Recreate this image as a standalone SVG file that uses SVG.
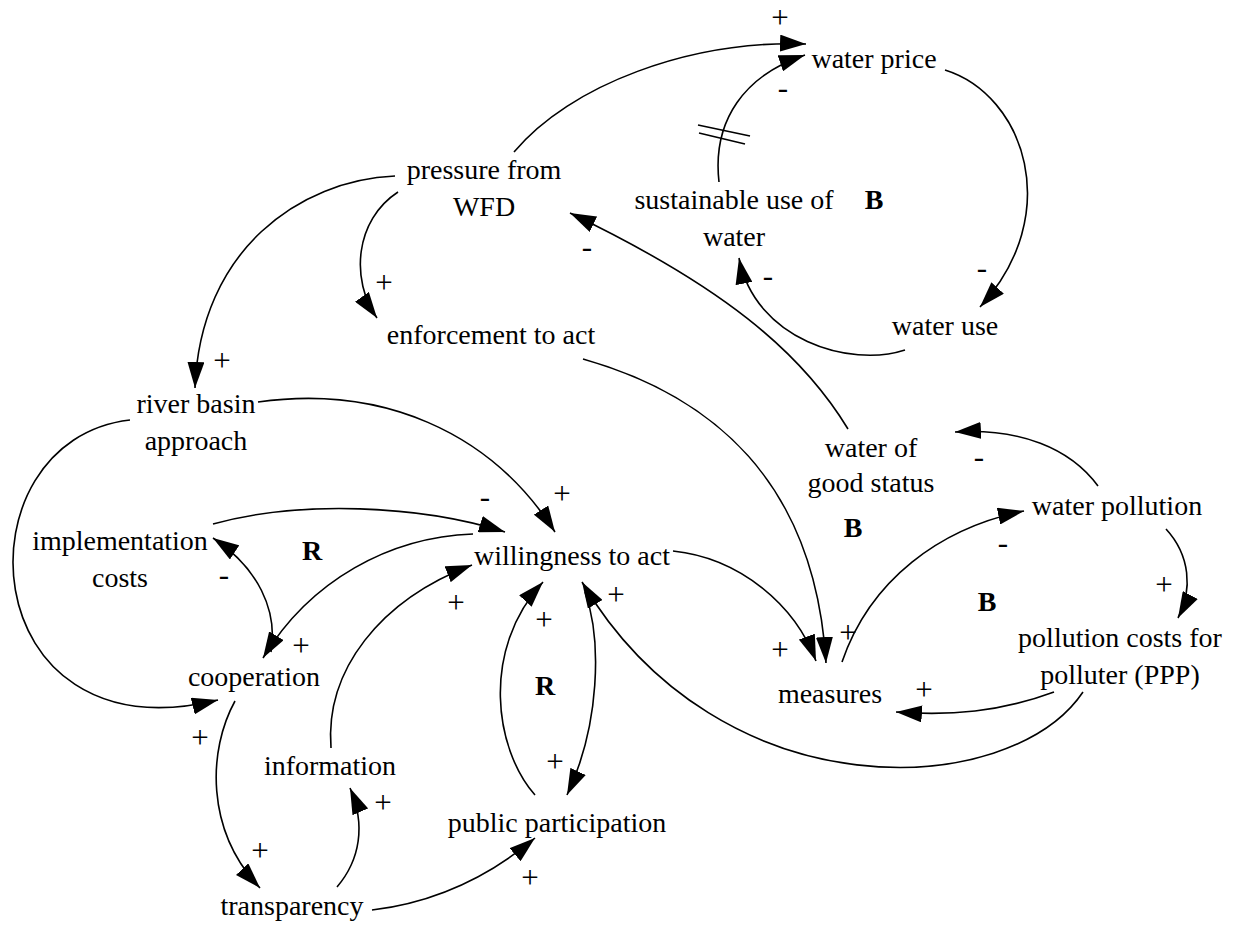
<svg xmlns="http://www.w3.org/2000/svg" width="1236" height="925" viewBox="0 0 1236 925">
  <style>
    .node text { font-family: "Liberation Serif", "Times New Roman", serif; font-size: 28px; fill: #000; text-anchor: middle; }
    .loop { font-family: "Liberation Serif", "Times New Roman", serif; font-size: 28px; font-weight: bold; fill: #000; text-anchor: middle; }
    .pol { font-family: "Liberation Serif", "Times New Roman", serif; font-size: 31px; fill: #000; text-anchor: middle; }
    .link { fill: none; stroke: #000; stroke-width: 1.6; marker-end: url(#arrow); }
    .delay { stroke: #000; stroke-width: 1.6; }
  </style>
  <defs>
    <marker id="arrow" markerUnits="userSpaceOnUse" markerWidth="26" markerHeight="17" refX="26" refY="8.5" orient="auto">
      <path d="M0,0 L26,8.5 L0,17 Z" fill="#000"/>
    </marker>
  </defs>
  <rect width="1236" height="925" fill="#fff"/>

  <!-- variables -->
  <g id="water-price" class="node"><text x="874" y="68">water price</text></g>
  <g id="pressure-from-wfd" class="node"><text x="484" y="179">pressure from</text><text x="484" y="216">WFD</text></g>
  <g id="sustainable-use" class="node"><text x="734" y="209">sustainable use of</text><text x="734" y="246">water</text></g>
  <g id="water-use" class="node"><text x="945" y="335">water use</text></g>
  <g id="enforcement" class="node"><text x="491" y="344">enforcement to act</text></g>
  <g id="river-basin" class="node"><text x="196" y="413">river basin</text><text x="196" y="450">approach</text></g>
  <g id="good-status" class="node"><text x="871" y="457">water of</text><text x="871" y="492">good status</text></g>
  <g id="water-pollution" class="node"><text x="1117" y="515">water pollution</text></g>
  <g id="pollution-costs" class="node"><text x="1120" y="647">pollution costs for</text><text x="1120" y="684">polluter (PPP)</text></g>
  <g id="measures" class="node"><text x="830" y="703">measures</text></g>
  <g id="willingness" class="node"><text x="572" y="565">willingness to act</text></g>
  <g id="implementation-costs" class="node"><text x="120" y="550">implementation</text><text x="120" y="587">costs</text></g>
  <g id="cooperation" class="node"><text x="254" y="686">cooperation</text></g>
  <g id="information" class="node"><text x="330" y="775">information</text></g>
  <g id="public-participation" class="node"><text x="557" y="832">public participation</text></g>
  <g id="transparency" class="node"><text x="292" y="915">transparency</text></g>

  <!-- loop markers -->
  <g id="loops">
    <text class="loop" x="874" y="209">B</text>
    <text class="loop" x="853" y="537">B</text>
    <text class="loop" x="987" y="611">B</text>
    <text class="loop" x="312" y="560">R</text>
    <text class="loop" x="545" y="695">R</text>
  </g>

  <!-- causal links -->
  <g id="links">
    <path class="link" d="M514,152 C570,85 690,40 806,44"/>
    <path class="link" d="M719,182 C712,120 745,75 805,55"/>
    <path class="link" d="M945,70 C1025,95 1065,215 980,307"/>
    <path class="link" d="M905,350 C850,368 755,340 739,258"/>
    <path class="link" d="M848,429 C800,350 720,285 570,213"/>
    <path class="link" d="M398,192 C355,220 350,280 377,318"/>
    <path class="link" d="M395,176 C300,180 200,250 195,388"/>
    <path class="link" d="M583,359 C710,395 815,480 826,663"/>
    <path class="link" d="M673,551 C740,558 795,605 816,661"/>
    <path class="link" d="M842,662 C870,580 940,528 1024,511"/>
    <path class="link" d="M1098,486 C1070,448 1020,428 955,432"/>
    <path class="link" d="M1166,529 C1190,555 1193,590 1178,618"/>
    <path class="link" d="M1054,692 C1000,712 950,716 896,712"/>
    <path class="link" d="M1083,692 C1010,800 720,815 582,582"/>
    <path class="link" d="M258,402 C380,385 490,430 555,532"/>
    <path class="link" d="M213,524 C300,500 420,505 505,532"/>
    <path class="link" d="M473,534 C390,537 310,580 263,658"/>
    <path class="link" d="M271,652 C278,610 258,568 213,538"/>
    <path class="link" d="M130,420 C-45,440 -30,760 218,700"/>
    <path class="link" d="M235,701 C208,750 205,830 260,888"/>
    <path class="link" d="M337,887 C360,860 366,825 350,788"/>
    <path class="link" d="M372,910 C430,903 485,880 535,838"/>
    <path class="link" d="M331,748 C325,670 380,600 472,565"/>
    <path class="link" d="M535,795 C495,750 480,650 543,582"/>
    <path class="link" d="M585,592 C602,640 600,725 567,795"/>
    <!-- delay mark -->
    <line class="delay" x1="698" y1="125" x2="750" y2="136"/>
    <line class="delay" x1="699" y1="133" x2="745" y2="144"/>
  </g>

  <!-- link polarities -->
  <g id="polarities">
    <text class="pol" x="780" y="28">+</text>
    <text class="pol" x="783" y="98">-</text>
    <text class="pol" x="982" y="278">-</text>
    <text class="pol" x="768" y="286">-</text>
    <text class="pol" x="587" y="257">-</text>
    <text class="pol" x="384" y="293">+</text>
    <text class="pol" x="222" y="371">+</text>
    <text class="pol" x="562" y="504">+</text>
    <text class="pol" x="485" y="507">-</text>
    <text class="pol" x="224" y="585">-</text>
    <text class="pol" x="301" y="656">+</text>
    <text class="pol" x="456" y="613">+</text>
    <text class="pol" x="544" y="630">+</text>
    <text class="pol" x="616" y="605">+</text>
    <text class="pol" x="780" y="660">+</text>
    <text class="pol" x="848" y="643">+</text>
    <text class="pol" x="1003" y="553">-</text>
    <text class="pol" x="979" y="467">-</text>
    <text class="pol" x="1164" y="595">+</text>
    <text class="pol" x="924" y="700">+</text>
    <text class="pol" x="200" y="748">+</text>
    <text class="pol" x="260" y="861">+</text>
    <text class="pol" x="383" y="813">+</text>
    <text class="pol" x="530" y="888">+</text>
    <text class="pol" x="555" y="772">+</text>
  </g>
</svg>
